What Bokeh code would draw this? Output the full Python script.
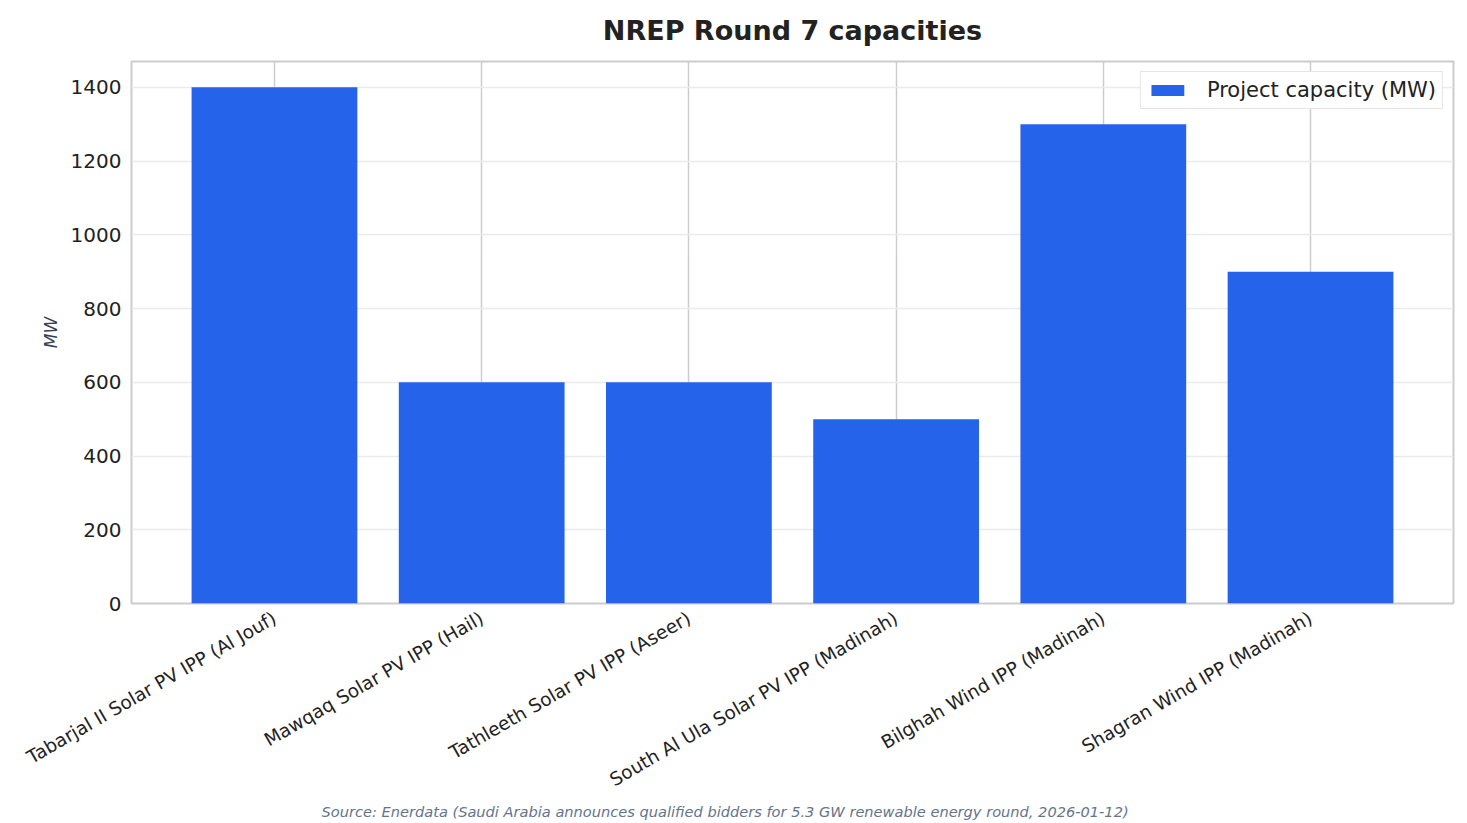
import math
from bokeh.plotting import figure
from bokeh.models import ColumnDataSource, FixedTicker, Range1d, Title
from bokeh.embed import file_html
from bokeh.resources import INLINE

# NREP Round 7 projects and their capacities (MW)
projects = [
    "Tabarjal II Solar PV IPP (Al Jouf)",
    "Mawqaq Solar PV IPP (Hail)",
    "Tathleeth Solar PV IPP (Aseer)",
    "South Al Ula Solar PV IPP (Madinah)",
    "Bilghah Wind IPP (Madinah)",
    "Shagran Wind IPP (Madinah)",
]
capacity_mw = [1400, 600, 600, 500, 1300, 900]
y_ticks = [0, 200, 400, 600, 800, 1000, 1200, 1400]
source_note = ("Source: Enerdata (Saudi Arabia announces qualified bidders for "
               "5.3 GW renewable energy round, 2026-01-12)")

FONT = "DejaVu Sans"
positions = list(range(len(projects)))
source = ColumnDataSource(dict(x=positions, top=capacity_mw, name=projects))

p = figure(
    width=1467, height=823,
    output_backend="svg", toolbar_location=None,
    x_range=Range1d(-0.69, len(projects) - 1 + 0.69),
    y_range=Range1d(0, max(capacity_mw) * 1.05),
    min_border_left=131, min_border_right=14,
    min_border_top=60, min_border_bottom=220,
)

p.vbar(x="x", top="top", width=0.8, source=source,
       fill_color="#2563eb", line_color=None,
       legend_label="Project capacity (MW)")

# title
p.title.text = "NREP Round 7 capacities"
p.title.text_font = FONT
p.title.text_font_size = "27px"
p.title.text_font_style = "bold"
p.title.text_color = "#222222"
p.title.align = "center"
p.title.vertical_align = "top"
p.title.standoff = 28

# x axis with project names
p.xaxis.ticker = FixedTicker(ticks=positions)
p.xaxis.major_label_overrides = {i: n for i, n in enumerate(projects)}
p.xaxis.major_label_orientation = math.pi / 6
p.xaxis.major_label_text_font = FONT
p.xaxis.major_label_text_font_size = "18.5px"
p.xaxis.major_label_text_color = "#222222"
p.xaxis.major_label_text_line_height = 0.6
p.xaxis.axis_line_color = None
p.xaxis.major_tick_line_color = None
p.xaxis.minor_tick_line_color = None
p.xaxis.major_label_standoff = 7

# y axis
p.yaxis.ticker = FixedTicker(ticks=y_ticks)
p.yaxis.axis_label = "MW"
p.yaxis.axis_label_text_font = FONT
p.yaxis.axis_label_text_font_size = "17px"
p.yaxis.axis_label_text_font_style = "italic"
p.yaxis.axis_label_text_color = "#334155"
p.yaxis.major_label_text_font = FONT
p.yaxis.major_label_text_font_size = "20px"
p.yaxis.major_label_text_color = "#222222"
p.yaxis.axis_line_color = None
p.yaxis.major_tick_line_color = None
p.yaxis.minor_tick_line_color = None
p.yaxis.major_label_standoff = 4
p.yaxis.axis_label_standoff = 7

# grid and frame
p.xgrid.grid_line_color = "#cccccc"
p.xgrid.grid_line_width = 1.5
p.ygrid.grid_line_color = "#ebebeb"
p.ygrid.grid_line_width = 1.5
p.outline_line_color = "#cccccc"
p.outline_line_width = 2
p.background_fill_color = "white"

# legend
lg = p.legend[0]
lg.location = "top_right"
lg.label_text_font = FONT
lg.label_text_font_size = "21px"
lg.label_text_color = "#222222"
lg.label_standoff = 19
lg.border_line_color = "#cccccc"
lg.border_line_width = 1.5
lg.glyph_width = 41
lg.glyph_height = 14
lg.padding = 6
lg.margin = 10

# source note below the category labels
note = Title(
    text=source_note, text_font=FONT, text_font_size="14.6px",
    text_font_style="italic", text_color="#64748b",
    align="left", offset=190, standoff=0, vertical_align="top",
)
p.add_layout(note, "below")

open("out.html", "w").write(file_html(p, INLINE))
